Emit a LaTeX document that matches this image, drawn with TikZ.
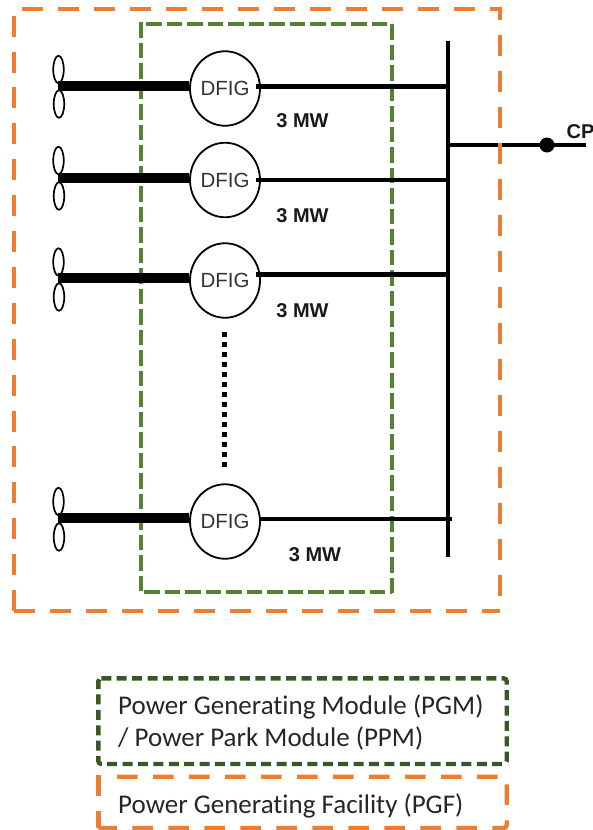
\documentclass[tikz,border=0pt]{standalone}
\usepackage{fontspec}
\setmainfont{Liberation Sans}
\newfontfamily\legendfont[Ligatures=NoCommon]{Carlito}
\usetikzlibrary{shapes.geometric}
\definecolor{facility}{HTML}{ED7D31}
\definecolor{modgreen}{HTML}{548235}
\definecolor{legendgreen}{HTML}{385723}
\tikzset{
  gen/.style={ellipse,draw=black,line width=1.8pt,fill=white,minimum width=70pt,minimum height=74.5pt,inner sep=0pt,font=\fontsize{20.5}{22}\selectfont,text=black!80},
  blade/.style={ellipse,draw=black,line width=1.7pt,minimum width=10.5pt,minimum height=27.5pt,inner sep=0pt},
  shaft/.style={line width=10pt},
  feeder/.style={line width=4.6pt},
  mwlabel/.style={font=\bfseries\fontsize{20}{22}\selectfont,inner sep=0pt,text=black!90},
  pgfbox/.style={draw=facility,line width=4.6pt,dash pattern=on 21pt off 15pt},
  pgfleft/.style={draw=facility,line width=4.6pt,dash pattern=on 21pt off 14.9pt},
  pgmbox/.style={draw=modgreen,line width=4.6pt,dash pattern=on 15.5pt off 5pt},
  legpgm/.style={draw=legendgreen,line width=4.4pt,dash pattern=on 10pt off 5.4pt,rounded corners=3pt},
  legpgf/.style={draw=facility,line width=4.4pt,dash pattern=on 20.5pt off 15.5pt,rounded corners=3pt},
  legtext/.style={font=\legendfont\fontsize{27}{32}\selectfont,text=black!85,align=left,anchor=west,inner sep=0pt}
}
\begin{document}
\begin{tikzpicture}[x=1pt,y=-1pt]
\useasboundingbox (0,0) rectangle (593,830);
% module frame
\coordinate (ga) at (141,22); \coordinate (gat) at (146,24); \coordinate (gb) at (392,24);
\coordinate (gc) at (392,595); \coordinate (gd) at (141,592); \coordinate (gdb) at (144,592); \coordinate (gcb) at (392,592);
\draw[pgmbox] (ga) -- (gd);
\draw[pgmbox] (gat) -- (gb);
\draw[pgmbox] (gb) -- (gc);
\draw[pgmbox] (gdb) -- (gcb);
% bus
\coordinate (bustop) at (448,41); \coordinate (busbot) at (448,557);
\draw[line width=4.6pt] (bustop) -- (busbot);
% generators
\node[gen] (g1) at (225,88.5) {DFIG};
\node[gen] (g2) at (225,180) {DFIG};
\node[gen] (g3) at (225,280.5) {DFIG};
\node[gen] (g4) at (225,521.5) {DFIG};
% blades
\node[blade] (b1a) at (58.5,69.5) {}; \node[blade] (b1b) at (59,104) {};
\node[blade] (b2a) at (58.5,160.5) {}; \node[blade] (b2b) at (59,196) {};
\node[blade] (b3a) at (58.5,262) {}; \node[blade] (b3b) at (59,297) {};
\node[blade] (b4a) at (58.5,501.5) {}; \node[blade] (b4b) at (59,537) {};
% shafts
\coordinate (h1) at (58,86); \coordinate (h2) at (58,177.5);
\coordinate (h3) at (58,278); \coordinate (h4) at (58,518);
\draw[shaft] (h1) -- (h1 -| g1.west);
\draw[shaft] (h2) -- (h2 -| g2.west);
\draw[shaft] (h3) -- (h3 -| g3.west);
\draw[shaft] (h4) -- (h4 -| g4.west);
% feeders
\coordinate (f1) at (256,86.5); \coordinate (f2) at (256,180);
\coordinate (f3) at (256,274.5); \coordinate (f4) at (260,519);
\coordinate (f4end) at (452,519);
\draw[feeder] (f1) -- (f1 -| bustop);
\draw[feeder] (f2) -- (f2 -| bustop);
\draw[feeder] (f3) -- (f3 -| bustop);
\draw[feeder] (f4) -- (f4end);
% point of connection
\coordinate (cpstart) at (448,145); \coordinate (cpend) at (586,145);
\draw[feeder] (cpstart) -- (cpend);
\node[circle,fill=black,minimum size=15pt,inner sep=0pt] (cpdot) at (547,145) {};
\node[mwlabel,anchor=west] (cp) at (566.5,131.5) {CP};
% facility frame
\coordinate (oa) at (22,9); \coordinate (ob) at (500,9);
\coordinate (oc) at (500,611); \coordinate (od) at (14,611); \coordinate (oe) at (14,9);
\draw[pgfbox] (oa) -- (ob) -- (oc);
\draw[pgfbox] (od) -- (oc);
\draw[pgfleft] (od) -- (oe);
% ratings
\node[mwlabel] (m1) at (302.5,120.5) {3 MW};
\node[mwlabel] (m2) at (302.5,215.5) {3 MW};
\node[mwlabel] (m3) at (302.5,311) {3 MW};
\node[mwlabel] (m4) at (315,554.5) {3 MW};
% continuation
\coordinate (da) at (224,332); \coordinate (db) at (224,468);
\draw[line width=5pt,dash pattern=on 5pt off 5pt] (da) -- (db);
% legend
\coordinate (la) at (98.3,678.3); \coordinate (lb) at (506.7,678.3);
\coordinate (lc) at (506.7,764); \coordinate (ld) at (98.3,764);
\draw[legpgm] (la) -- (lb) -- (lc) -- (ld) -- cycle;
\node[legtext] (lt1) at (118,722) {Power Generating Module (PGM)\\/ Power Park Module (PPM)};
\coordinate (pa) at (117,776.7); \coordinate (pb) at (506.7,776.7);
\coordinate (pc) at (506.7,828); \coordinate (pd) at (98.3,828); \coordinate (pe) at (98.3,775);
\draw[legpgf] (pa) -- (pb) -- (pc) -- (pd);
\draw[legpgf] (pe) -- (pd);
\node[legtext] (lt2) at (118,805.5) {Power Generating Facility (PGF)};
\end{tikzpicture}
\end{document}
